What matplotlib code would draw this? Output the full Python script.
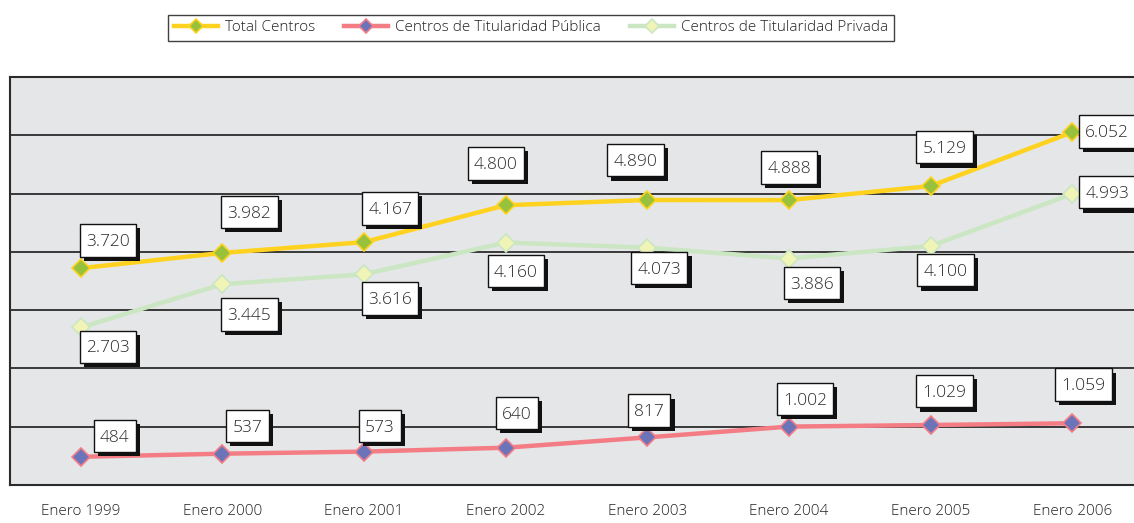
import matplotlib
matplotlib.use("Agg")
import matplotlib.pyplot as plt
import matplotlib.patheffects as pe
from matplotlib import font_manager
from matplotlib.path import Path


def _pick(stretch):
    cands = [f for f in font_manager.fontManager.ttflist
             if f.name == "Open Sans" and f.stretch == stretch and f.style == "normal"]
    cands.sort(key=lambda f: abs(int(f.weight) - 300) if str(f.weight).isdigit() else 999)
    return dict(fname=cands[0].fname) if cands else dict(family="DejaVu Sans", stretch=stretch)


FONT_TEXT = _pick("normal")


def fp(size, font=FONT_TEXT):
    return font_manager.FontProperties(size=size, **font)


class LabelBox:
    """Square box with its own horizontal and vertical padding and a small
    upward shift, so that digits sit visually centred."""

    def __init__(self, pad_x=0.37, pad_y=0.45, shift=0.1):
        self.pad_x = pad_x
        self.pad_y = pad_y
        self.shift = shift

    def __call__(self, x0, y0, width, height, mutation_size):
        px = self.pad_x * mutation_size
        py = self.pad_y * mutation_size
        s = self.shift * mutation_size
        xa, xb = x0 - px, x0 + width + px
        ya, yb = y0 - py + s, y0 + height + py + s
        return Path([(xa, ya), (xb, ya), (xb, yb), (xa, yb), (xa, ya)],
                    [Path.MOVETO, Path.LINETO, Path.LINETO, Path.LINETO, Path.CLOSEPOLY])


categories = ["Enero 1999", "Enero 2000", "Enero 2001", "Enero 2002",
              "Enero 2003", "Enero 2004", "Enero 2005", "Enero 2006"]
total = [3720, 3982, 4167, 4800, 4890, 4888, 5129, 6052]
publica = [484, 537, 573, 640, 817, 1002, 1029, 1059]
privada = [2703, 3445, 3616, 4160, 4073, 3886, 4100, 4993]

series_names = ["Total Centros", "Centros de Titularidad Pública",
                "Centros de Titularidad Privada"]

# Label offsets (pixels) from each point to the centre of its value box
off_total = [(27, 28), (27, 41), (26, 34), (-10, 42), (-12, 40), (0, 33), (14, 39), (35, 1)]
off_privada = [(27, -19), (27, -30), (26, -24), (10, -28), (12, -20), (23, -24), (15, -24), (35, 2)]
off_publica = [(34, 21), (25, 28), (16, 26), (11, 35), (2, 27), (16, 28), (14, 34), (11, 39)]


def fmt(v):
    return f"{v:,}".replace(",", ".")


W, H = 1134, 523
fig = plt.figure(figsize=(W / 100, H / 100), dpi=100)
ax = fig.add_axes([10 / W, 38 / H, 1133 / W, 408 / H])
ax.set_facecolor("#e5e6e7")

x = list(range(len(categories)))
ax.set_xlim(-0.5, 7.5)
ax.set_ylim(0, 7000)
ax.set_yticks(range(0, 7001, 1000))
ax.yaxis.grid(True, color="#2b2b2b", linewidth=1.3)
ax.set_axisbelow(True)
ax.tick_params(axis="y", left=False, labelleft=False)
ax.tick_params(axis="x", length=0, pad=14)
ax.set_xticks(x)
ax.set_xticklabels(categories)
for lab in ax.get_xticklabels():
    lab.set_fontproperties(fp(11))
    lab.set_color("#222222")
for side in ["left", "top", "bottom"]:
    ax.spines[side].set_color("#2b2b2b")
    ax.spines[side].set_linewidth(1.5)
ax.spines["right"].set_visible(False)

styles = [
    (total, "#ffd21f", "#98c23c", off_total),
    (publica, "#f47c84", "#6c74b9", off_publica),
    (privada, "#cbe6c3", "#f1f4b7", off_privada),
]

handles = []
for (vals, lc, mc, offs), name in zip(styles, series_names):
    h, = ax.plot(x, vals, color=lc, linewidth=3.2, marker="D", markersize=9,
                 markerfacecolor=mc, markeredgecolor=lc, markeredgewidth=1.2,
                 label=name, zorder=3)
    handles.append(h)

for vals, lc, mc, offs in styles:
    for xi, v, (dx, dy) in zip(x, vals, offs):
        t = ax.annotate(fmt(v), (xi, v), xytext=(dx, dy), textcoords="offset pixels",
                        ha="center", va="center_baseline", fontproperties=fp(12.5),
                        color="#2a2a2a",
                        bbox=dict(boxstyle=LabelBox(pad_x=0.36, pad_y=0.47, shift=0.1),
                                  facecolor="white", edgecolor="#111111", linewidth=1.0),
                        zorder=5, annotation_clip=False)
        t.get_bbox_patch().set_path_effects([
            pe.SimplePatchShadow(offset=(3, -3), shadow_rgbFace="#111111", alpha=1.0),
            pe.Normal(),
        ])

leg = fig.legend(handles=handles, loc="upper center", ncol=3,
                 bbox_to_anchor=(531 / W, 1 - 15 / H), frameon=True, fancybox=False,
                 edgecolor="#111111", prop=fp(11), handlelength=2.9,
                 handletextpad=0.45, columnspacing=1.9, borderpad=0.35,
                 borderaxespad=0, markerscale=0.75)
leg.get_frame().set_linewidth(1.0)
for txt in leg.get_texts():
    txt.set_color("#222222")

fig.savefig("out.png", dpi=100)
